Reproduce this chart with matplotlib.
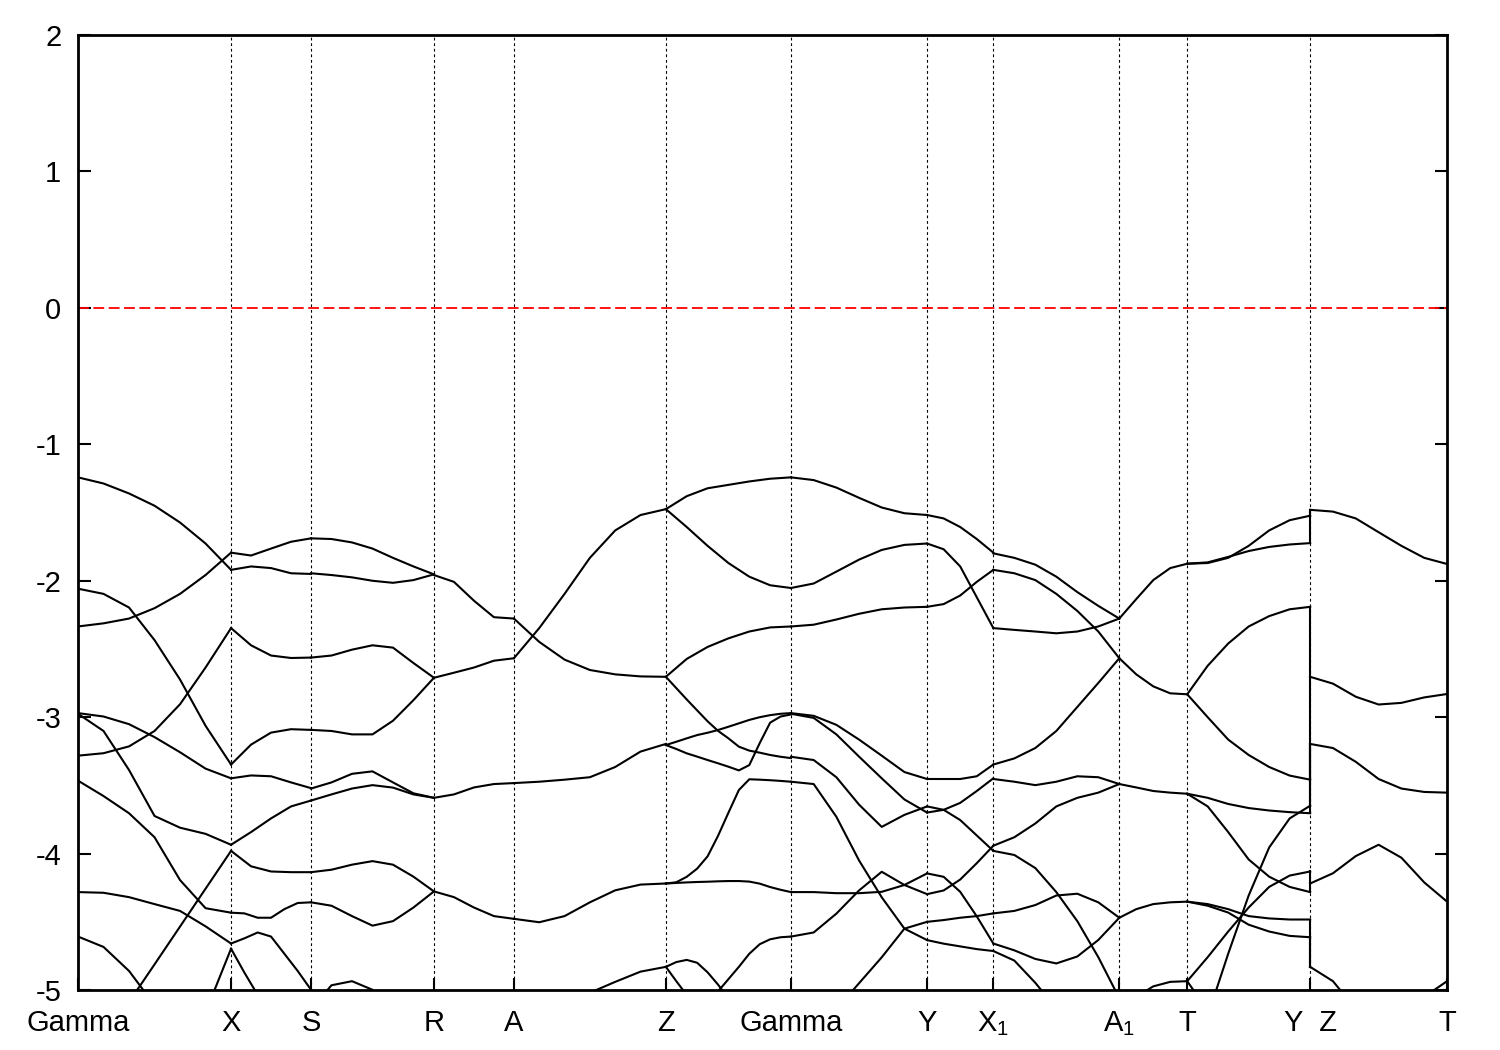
import numpy as np
import matplotlib
matplotlib.use("Agg")
import matplotlib.pyplot as plt

nan = np.nan

# high symmetry points along the path
kpt_labels = ['Gamma', 'X', 'S', 'R', 'A', 'Z', 'Gamma', 'Y',
              r'X$_\mathregular{1}$', r'A$_\mathregular{1}$', 'T', 'Y  Z', 'T']
kpt_pos = [0.0, 0.559, 0.851, 1.300, 1.592, 2.147, 2.604, 3.101,
           3.343, 3.803, 4.051, 4.500, 5.000]

# band energies (eV) sampled evenly inside each segment
seg_G_X = [
    [-1.242, -1.287, -1.360, -1.450, -1.573, -1.727, -1.920],
    [-2.335, -2.312, -2.277, -2.201, -2.096, -1.958, -1.794],
    [-2.058, -2.096, -2.196, -2.435, -2.724, -3.063, -3.347],
    [-3.282, -3.264, -3.214, -3.101, -2.905, -2.636, -2.347],
    [-2.970, -2.995, -3.051, -3.146, -3.257, -3.377, -3.448],
    [-2.975, -3.101, -3.387, -3.724, -3.810, -3.855, -3.935],
    [-3.465, -3.578, -3.704, -3.880, -4.194, -4.400, -4.433],
    [-4.282, -4.287, -4.319, -4.370, -4.420, -4.533, -4.659],
    [-5.639, -4.812, -3.980],
    [-4.608, -4.684, -4.860, -5.110, nan, nan, nan],
    [nan, nan, nan, nan, -5.640, -5.164, -4.697],
]
seg_X_S = [
    [-1.794, -1.815, -1.764, -1.714, -1.689],
    [-1.920, -1.895, -1.907, -1.945, -1.950],
    [-2.347, -2.473, -2.548, -2.566, -2.563],
    [-3.347, -3.201, -3.113, -3.088, -3.093],
    [-3.448, -3.427, -3.433, -3.478, -3.520],
    [-3.935, -3.842, -3.742, -3.654, -3.611],
    [-3.980, -4.093, -4.131, -4.136, -4.136],
    [-4.433, -4.438, -4.470, -4.470, -4.407, -4.362, -4.357],
    [-4.659, -4.621, -4.578, -4.608, -4.734, -4.860, -4.998],
    [-4.697, -4.872, -5.036, nan, nan, nan, nan],
]
seg_S_R = [
    [-1.689, -1.694, -1.719, -1.764, -1.832, -1.895, -1.953],
    [-1.945, -1.958, -1.975, -2.000, -2.015, -1.995, -1.953],
    [-2.563, -2.548, -2.505, -2.473, -2.490, -2.603, -2.711],
    [-3.093, -3.101, -3.126, -3.126, -3.026, -2.875, -2.711],
    [-3.523, -3.478, -3.415, -3.397, -3.478, -3.558, -3.591],
    [-3.611, -3.566, -3.523, -3.498, -3.516, -3.566, -3.591],
    [-4.136, -4.118, -4.081, -4.055, -4.081, -4.169, -4.277],
    [-4.357, -4.382, -4.458, -4.528, -4.495, -4.395, -4.277],
    [-5.140, -4.965, -4.935, -4.998, -5.190, nan, nan],
]
seg_R_A = [
    [-1.958, -2.008, -2.146, -2.267, -2.277],
    [-2.711, -2.674, -2.636, -2.586, -2.568],
    [-3.591, -3.566, -3.515, -3.490, -3.483],
    [-4.277, -4.319, -4.395, -4.458, -4.478],
]
seg_A_Z = [
    [-2.277, -2.448, -2.578, -2.654, -2.686, -2.701, -2.704],
    [-2.568, -2.347, -2.096, -1.832, -1.631, -1.518, -1.475],
    [-3.483, -3.473, -3.458, -3.440, -3.365, -3.252, -3.196],
    [-4.478, -4.503, -4.458, -4.357, -4.269, -4.227, -4.219],
    [nan, nan, nan, -5.020, -4.940, -4.865, -4.830],
]
seg_Z_G = [
    [-1.475, -1.380, -1.322, -1.297, -1.272, -1.252, -1.242],
    [-1.475, -1.606, -1.744, -1.870, -1.970, -2.033, -2.053],
    [-2.704, -2.573, -2.485, -2.422, -2.372, -2.342, -2.335],
    [-2.704, -2.787, -2.870, -2.950, -3.030, -3.100, -3.155, -3.216,
     -3.245, -3.260, -3.277, -3.290, -3.300],
    [-3.204, -3.180, -3.155, -3.131, -3.114, -3.094, -3.070, -3.045,
     -3.020, -3.000, -2.985, -2.975, -2.970],
    [-3.204, -3.233, -3.265, -3.289, -3.314, -3.338, -3.363, -3.390,
     -3.351, -3.190, -3.040, -2.995, -2.980],
    [-4.219, -4.210, -4.170, -4.110, -4.020, -3.870, -3.700, -3.534,
     -3.455, -3.458, -3.462, -3.467, -3.473],
    [-4.219, -4.215, -4.211, -4.208, -4.206, -4.203, -4.201, -4.201,
     -4.205, -4.220, -4.245, -4.265, -4.282],
    [-4.830, -4.795, -4.779, -4.800, -4.870, -4.960, -5.060,
     nan, nan, nan, nan, nan, nan],
    [nan, nan, nan, nan, nan, -5.010, -4.920, -4.830, -4.734, -4.664,
     -4.628, -4.613, -4.608],
    [-4.830, -4.935, -5.036, nan, nan, nan, nan, nan, nan, nan, nan,
     nan, nan],
]
seg_G_Y = [
    [-1.242, -1.262, -1.317, -1.392, -1.463, -1.505, -1.518],
    [-2.053, -2.020, -1.933, -1.845, -1.774, -1.737, -1.727],
    [-2.335, -2.322, -2.284, -2.242, -2.209, -2.196, -2.191],
    [-2.970, -2.990, -3.056, -3.164, -3.282, -3.402, -3.453],
    [-2.975, -3.005, -3.126, -3.289, -3.448, -3.603, -3.699],
    [-3.290, -3.314, -3.440, -3.641, -3.804, -3.716, -3.654],
    [-3.473, -3.490, -3.730, -4.050, -4.320, -4.550, -4.634],
    [-4.608, -4.578, -4.440, -4.270, -4.133, -4.230, -4.297],
    [-4.282, -4.282, -4.290, -4.290, -4.280, -4.230, -4.145],
    [nan, nan, -5.140, -4.950, -4.760, -4.550, -4.500],
]
seg_Y_X1 = [
    [-1.518, -1.543, -1.606, -1.694, -1.794],
    [-1.727, -1.769, -1.895, -2.121, -2.347],
    [-2.191, -2.171, -2.108, -2.008, -1.920],
    [-3.453, -3.453, -3.453, -3.433, -3.347],
    [-3.654, -3.679, -3.628, -3.541, -3.448],
    [-3.699, -3.679, -3.754, -3.867, -3.980],
    [-4.634, -4.660, -4.680, -4.700, -4.714],
    [-4.297, -4.270, -4.190, -4.070, -3.942],
    [-4.145, -4.170, -4.280, -4.460, -4.659],
    [-4.500, -4.487, -4.470, -4.458, -4.438],
]
seg_X1_A1 = [
    [-1.799, -1.832, -1.882, -1.970, -2.083, -2.184, -2.277],
    [-1.920, -1.945, -1.995, -2.096, -2.221, -2.372, -2.568],
    [-2.347, -2.360, -2.372, -2.385, -2.372, -2.335, -2.277],
    [-3.347, -3.302, -3.226, -3.101, -2.925, -2.749, -2.568],
    [-3.453, -3.473, -3.498, -3.473, -3.433, -3.440, -3.490],
    [-3.942, -3.880, -3.779, -3.654, -3.591, -3.553, -3.490],
    [-3.980, -4.010, -4.106, -4.282, -4.495, -4.759, -5.060],
    [-4.438, -4.420, -4.377, -4.307, -4.294, -4.357, -4.470],
    [-4.659, -4.709, -4.772, -4.805, -4.754, -4.633, -4.470],
    [-4.714, -4.784, -4.947, -5.136, nan, nan, nan],
]
seg_A1_T = [
    [-2.277, -2.134, -1.995, -1.907, -1.875],
    [-2.568, -2.686, -2.774, -2.825, -2.832],
    [-3.490, -3.515, -3.541, -3.553, -3.561],
    [-4.470, -4.407, -4.370, -4.357, -4.352],
    [nan, -5.050, -4.973, -4.940, -4.935],
]
seg_T_Y = [
    [-1.875, -1.870, -1.832, -1.744, -1.631, -1.556, -1.523],
    [-1.875, -1.865, -1.825, -1.782, -1.752, -1.734, -1.724],
    [-2.832, -2.623, -2.460, -2.335, -2.259, -2.209, -2.191],
    [-2.832, -3.000, -3.164, -3.277, -3.365, -3.428, -3.458],
    [-3.561, -3.591, -3.636, -3.666, -3.684, -3.696, -3.704],
    [-3.561, -3.654, -3.842, -4.043, -4.169, -4.244, -4.282],
    [-4.352, -4.370, -4.407, -4.458, -4.475, -4.483, -4.483],
    [-4.352, -4.382, -4.432, -4.521, -4.571, -4.603, -4.613],
    [-4.935, -4.759, -4.571, -4.395, -4.244, -4.161, -4.131],
    [nan, -5.190, -4.734, -4.307, -3.955, -3.742, -3.649],
    [-4.935, -5.150, nan, nan, nan, nan, nan],
]
seg_Z_T = [
    [-1.480, -1.493, -1.543, -1.644, -1.744, -1.832, -1.877],
    [-2.704, -2.754, -2.850, -2.907, -2.895, -2.855, -2.830],
    [-3.196, -3.226, -3.327, -3.453, -3.523, -3.548, -3.553],
    [-4.219, -4.144, -4.018, -3.935, -4.030, -4.211, -4.352],
    [-4.830, -4.935, -5.140, nan, nan, nan, nan],
    [nan, nan, nan, nan, nan, -5.050, -4.935],
]

# energies joined at the Y|Z discontinuity
jump_Y = [-1.523, -1.724, -2.191, -3.458, -3.649, -3.704, -4.131, -4.282, -4.483, -4.613]
jump_Z = [-1.480, -1.480, -2.704, -2.704, -3.196, -3.196, -4.219, -4.219, -4.830, -4.830]

segments = [
    (0, 1, seg_G_X), (1, 2, seg_X_S), (2, 3, seg_S_R), (3, 4, seg_R_A),
    (4, 5, seg_A_Z), (5, 6, seg_Z_G), (6, 7, seg_G_Y), (7, 8, seg_Y_X1),
    (8, 9, seg_X1_A1), (9, 10, seg_A1_T), (10, 11, seg_T_Y), (11, 12, seg_Z_T),
]

plt.rcParams['font.family'] = ['Liberation Sans', 'DejaVu Sans']
plt.rcParams['mathtext.fontset'] = 'custom'
plt.rcParams['mathtext.rm'] = 'Liberation Sans'
plt.rcParams['axes.unicode_minus'] = False

fig = plt.figure(figsize=(15, 10.5), dpi=100)
ax = fig.add_axes([0.052, 0.0571, 0.9127, 0.9095])

for k in kpt_pos[1:-1]:
    ax.axvline(k, color='black', lw=0.8, ls=(0, (2.5, 2.5)), zorder=1)

ax.axhline(0, color='#ff0000', lw=1.3, ls=(0, (6, 2.5)), zorder=2)

for i0, i1, bands in segments:
    k0, k1 = kpt_pos[i0], kpt_pos[i1]
    for band in bands:
        kk = np.linspace(k0, k1, len(band))
        ax.plot(kk, band, color='black', lw=1.5, zorder=3,
                solid_joinstyle='round')

k_yz = kpt_pos[11]
for ey, ez in zip(jump_Y, jump_Z):
    ax.plot([k_yz, k_yz], [ey, ez], color='black', lw=1.5, zorder=3)

ax.set_xlim(kpt_pos[0], kpt_pos[-1])
ax.set_ylim(-5, 2)
ax.set_xticks(kpt_pos)
ax.set_xticklabels(kpt_labels)
ax.set_yticks(range(-5, 3))
ax.tick_params(axis='both', direction='in', length=9, width=1.5, labelsize=21)
ax.tick_params(axis='y', right=True, pad=12)
ax.tick_params(axis='x', pad=14)
for sp in ax.spines.values():
    sp.set_linewidth(2)

fig.savefig("out.png", dpi=100)
